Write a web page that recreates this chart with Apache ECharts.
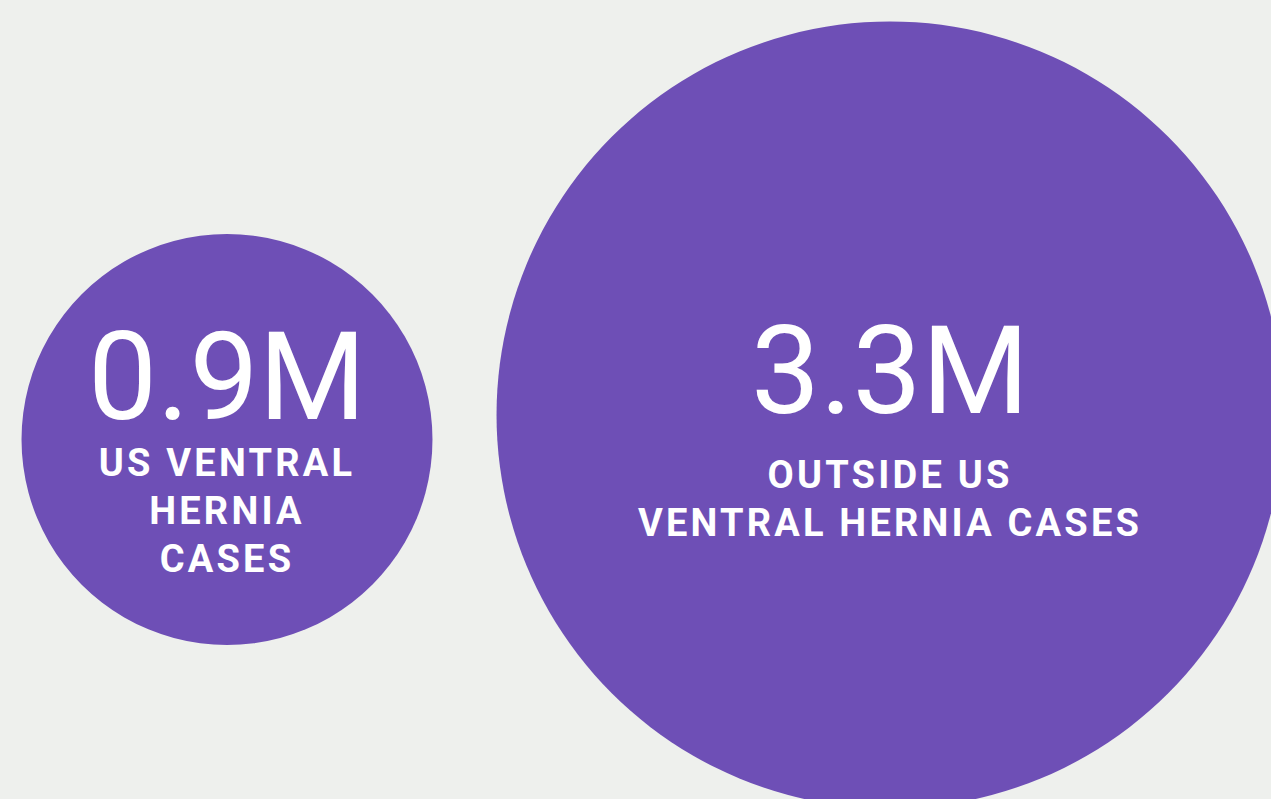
<!DOCTYPE html>
<html>
<head>
<meta charset="utf-8">
<title>Ventral hernia cases</title>
<script src="https://cdn.jsdelivr.net/npm/echarts@6/dist/echarts.min.js"></script>
<style>
  html, body { margin: 0; padding: 0; background: #eef0ed; }
  #chart { width: 1271px; height: 799px; }
  /* tracked lettering for the bold captions */
  #chart text[style*="bold"], #chart text[font-weight="bold"] { letter-spacing: 3.2px; }
</style>
</head>
<body>
<div id="chart"></div>
<script>
// Annual ventral hernia cases, in millions
const categories = ['US', 'Outside US'];
const casesMillions = [0.9, 3.3];
const captionLines = [
  ['US VENTRAL', 'HERNIA', 'CASES'],
  ['OUTSIDE US', 'VENTRAL HERNIA CASES']
];

// bubble area is proportional to the value: pixels of radius per sqrt(million)
const RADIUS_PER_SQRT = 216.6;

const numberFont = 'Roboto, "Noto Sans", sans-serif';
const captionFont = 'Roboto, "Noto Sans", sans-serif';

// per-bubble layout: vertical nudge of the bubble and its label, and the gap under the number
const layout = [
  { symbolOffset: [0, 0], labelOffset: [0, 9.5], numberLine: 123 },
  { symbolOffset: [0, -24.5], labelOffset: [0, 4], numberLine: 160 }
];

const data = categories.map((cat, i) => ({
  name: cat,
  value: [i, 0, casesMillions[i]],
  symbolOffset: layout[i].symbolOffset,
  label: {
    show: true,
    position: 'inside',
    offset: layout[i].labelOffset,
    formatter: p => '{v|' + p.value[2].toFixed(1) + 'M}\n' +
      captionLines[p.dataIndex].map(l => '{n|' + l + '}').join('\n'),
    rich: {
      v: {
        fontFamily: numberFont, fontSize: 123, fontWeight: 'normal',
        color: '#ffffff', lineHeight: layout[i].numberLine, align: 'center'
      },
      n: {
        fontFamily: captionFont, fontSize: 38, fontWeight: 'bold',
        color: '#ffffff', lineHeight: 48, align: 'center'
      }
    }
  }
}));

const chart = echarts.init(document.getElementById('chart'), null, { renderer: 'svg' });
chart.setOption({
  backgroundColor: '#eef0ed',
  animation: false,
  grid: { left: 227, right: 381, top: 80, bottom: 0 },
  xAxis: { type: 'category', data: categories, boundaryGap: false, show: false },
  yAxis: { type: 'category', data: [''], show: false },
  series: [{
    type: 'scatter',
    silent: true,
    clip: false,
    symbol: 'circle',
    symbolSize: v => 2 * RADIUS_PER_SQRT * Math.sqrt(v[2]),
    itemStyle: { color: '#6e4fb6', opacity: 1 },
    data: data
  }]
});
</script>
</body>
</html>
